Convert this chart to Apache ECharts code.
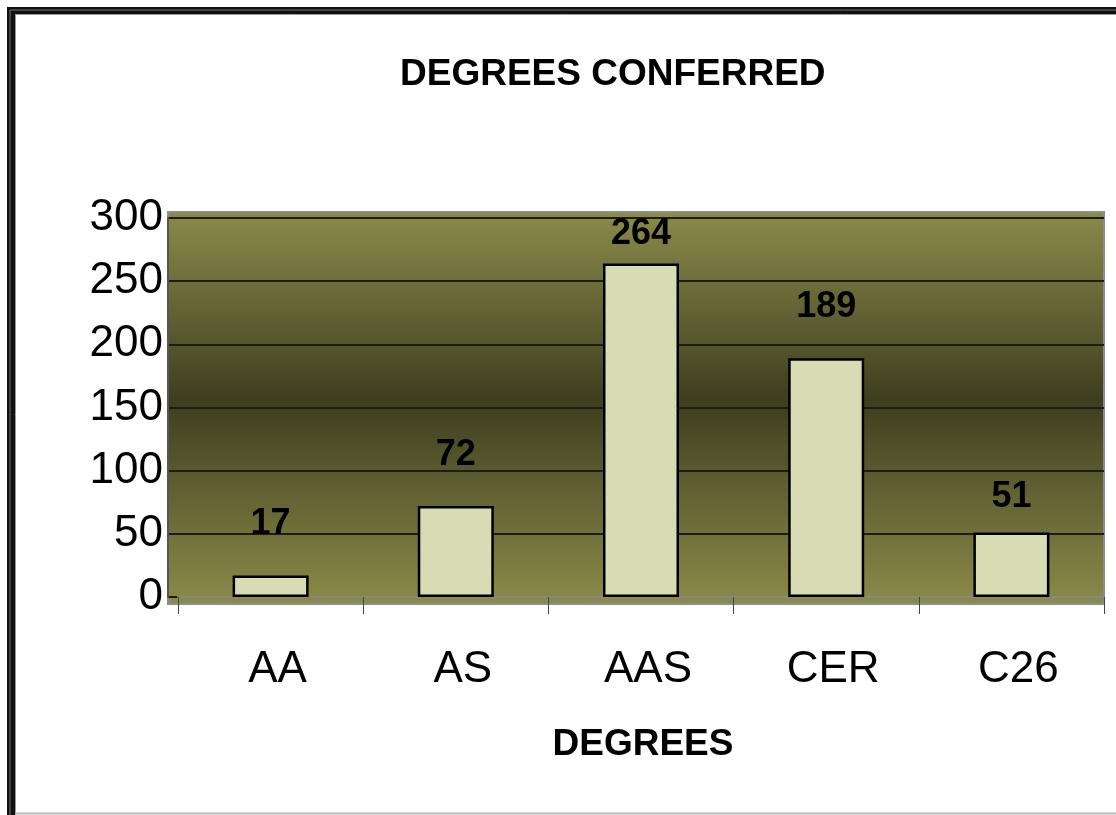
<!DOCTYPE html>
<html>
<head>
<meta charset="utf-8">
<script src="https://cdn.jsdelivr.net/npm/echarts@6/dist/echarts.min.js"></script>
<style>
html,body{margin:0;padding:0;background:#fff;}
#chart{width:1116px;height:815px;}
</style>
</head>
<body>
<div id="chart"></div>
<script>
const categories = ['AA', 'AS', 'AAS', 'CER', 'C26'];
const degreeCounts = [17, 72, 264, 189, 51];
const yTicks = [0, 50, 100, 150, 200, 250, 300];
const labelGaps = [33, 33, 11, 33, 17];

const FONT = "'Liberation Sans', Arial, sans-serif";
const chart = echarts.init(document.getElementById('chart'), null, {renderer: 'canvas'});

const barData = degreeCounts.map((v, i) => ({
  value: v,
  label: {distance: labelGaps[i]}
}));

const option = {
  animation: false,
  backgroundColor: '#ffffff',
  title: {
    text: 'DEGREES CONFERRED',
    left: 395,
    top: 51,
    textStyle: {fontFamily: FONT, fontWeight: 'bold', fontSize: 37, color: '#000'}
  },
  graphic: [
    {type: 'rect', z: -10, shape: {x: 168, y: 212, width: 936, height: 392},
     style: {
       fill: new echarts.graphic.LinearGradient(0, 0, 0, 1, [
         {offset: 0, color: '#8b8b4b'},
         {offset: 0.48, color: '#3e3e20'},
         {offset: 1, color: '#8b8b4a'}
       ]),
       stroke: '#8c8c8c', lineWidth: 2
     }},
    {type: 'rect', z: 10, shape: {x: 7, y: 7, width: 8, height: 808}, style: {fill: '#111'}},
    {type: 'rect', z: 10, shape: {x: 7, y: 7, width: 1109, height: 7}, style: {fill: '#111'}},
    {type: 'line', z: 11, shape: {x1: 10, y1: 10, x2: 10, y2: 815}, style: {stroke: '#777', lineWidth: 1}},
    {type: 'line', z: 11, shape: {x1: 10, y1: 10, x2: 1116, y2: 10}, style: {stroke: '#777', lineWidth: 1}},
    {type: 'line', z: 11, shape: {x1: 15.5, y1: 14, x2: 15.5, y2: 815}, style: {stroke: '#999', lineWidth: 1}},
    {type: 'line', z: 11, shape: {x1: 15, y1: 14.5, x2: 1116, y2: 14.5}, style: {stroke: '#999', lineWidth: 1}},
    {type: 'line', z: 11, shape: {x1: 15, y1: 813.5, x2: 1116, y2: 813.5}, style: {stroke: '#bbb', lineWidth: 2}}
  ],
  grid: [
    {left: 168, right: 12, top: 218, bottom: 218},
    {left: 178, right: 12, top: 218, bottom: 218}
  ],
  xAxis: [
    {gridIndex: 0, type: 'value', show: false, min: 0, max: 1},
    {
      gridIndex: 1,
      type: 'category',
      data: categories,
      axisLine: {show: true, lineStyle: {color: '#888', width: 2}},
      axisTick: {show: true, length: 17, lineStyle: {color: '#444', width: 1}},
      axisLabel: {fontFamily: FONT, fontSize: 44, color: '#000', margin: 51, padding: [0, 0, 0, 14]},
      name: 'DEGREES',
      nameLocation: 'middle',
      nameGap: 129,
      nameTextStyle: {fontFamily: FONT, fontWeight: 'bold', fontSize: 37, color: '#000', padding: [0, 0, 0, 4]}
    }
  ],
  yAxis: [
    {
      gridIndex: 0,
      type: 'value',
      min: yTicks[0],
      max: yTicks[yTicks.length - 1],
      interval: yTicks[1] - yTicks[0],
      axisLine: {show: true, lineStyle: {color: '#555', width: 2}},
      axisTick: {show: false},
      axisLabel: {fontFamily: FONT, fontSize: 44, color: '#000', margin: 5},
      splitLine: {show: true, lineStyle: {color: '#1e1e10', width: 2}}
    },
    {
      gridIndex: 1,
      type: 'value',
      min: yTicks[0],
      max: yTicks[yTicks.length - 1],
      interval: yTicks[1] - yTicks[0],
      show: false,
      splitLine: {show: false}
    }
  ],
  series: [{
    type: 'bar',
    xAxisIndex: 1,
    yAxisIndex: 1,
    data: barData,
    barWidth: 76,
    itemStyle: {color: '#d8dcb4', borderColor: '#000', borderWidth: 2.5},
    label: {
      show: true,
      position: 'top',
      fontFamily: FONT,
      fontWeight: 'bold',
      fontSize: 36,
      color: '#000'
    }
  }]
};
chart.setOption(option);
</script>
</body>
</html>
